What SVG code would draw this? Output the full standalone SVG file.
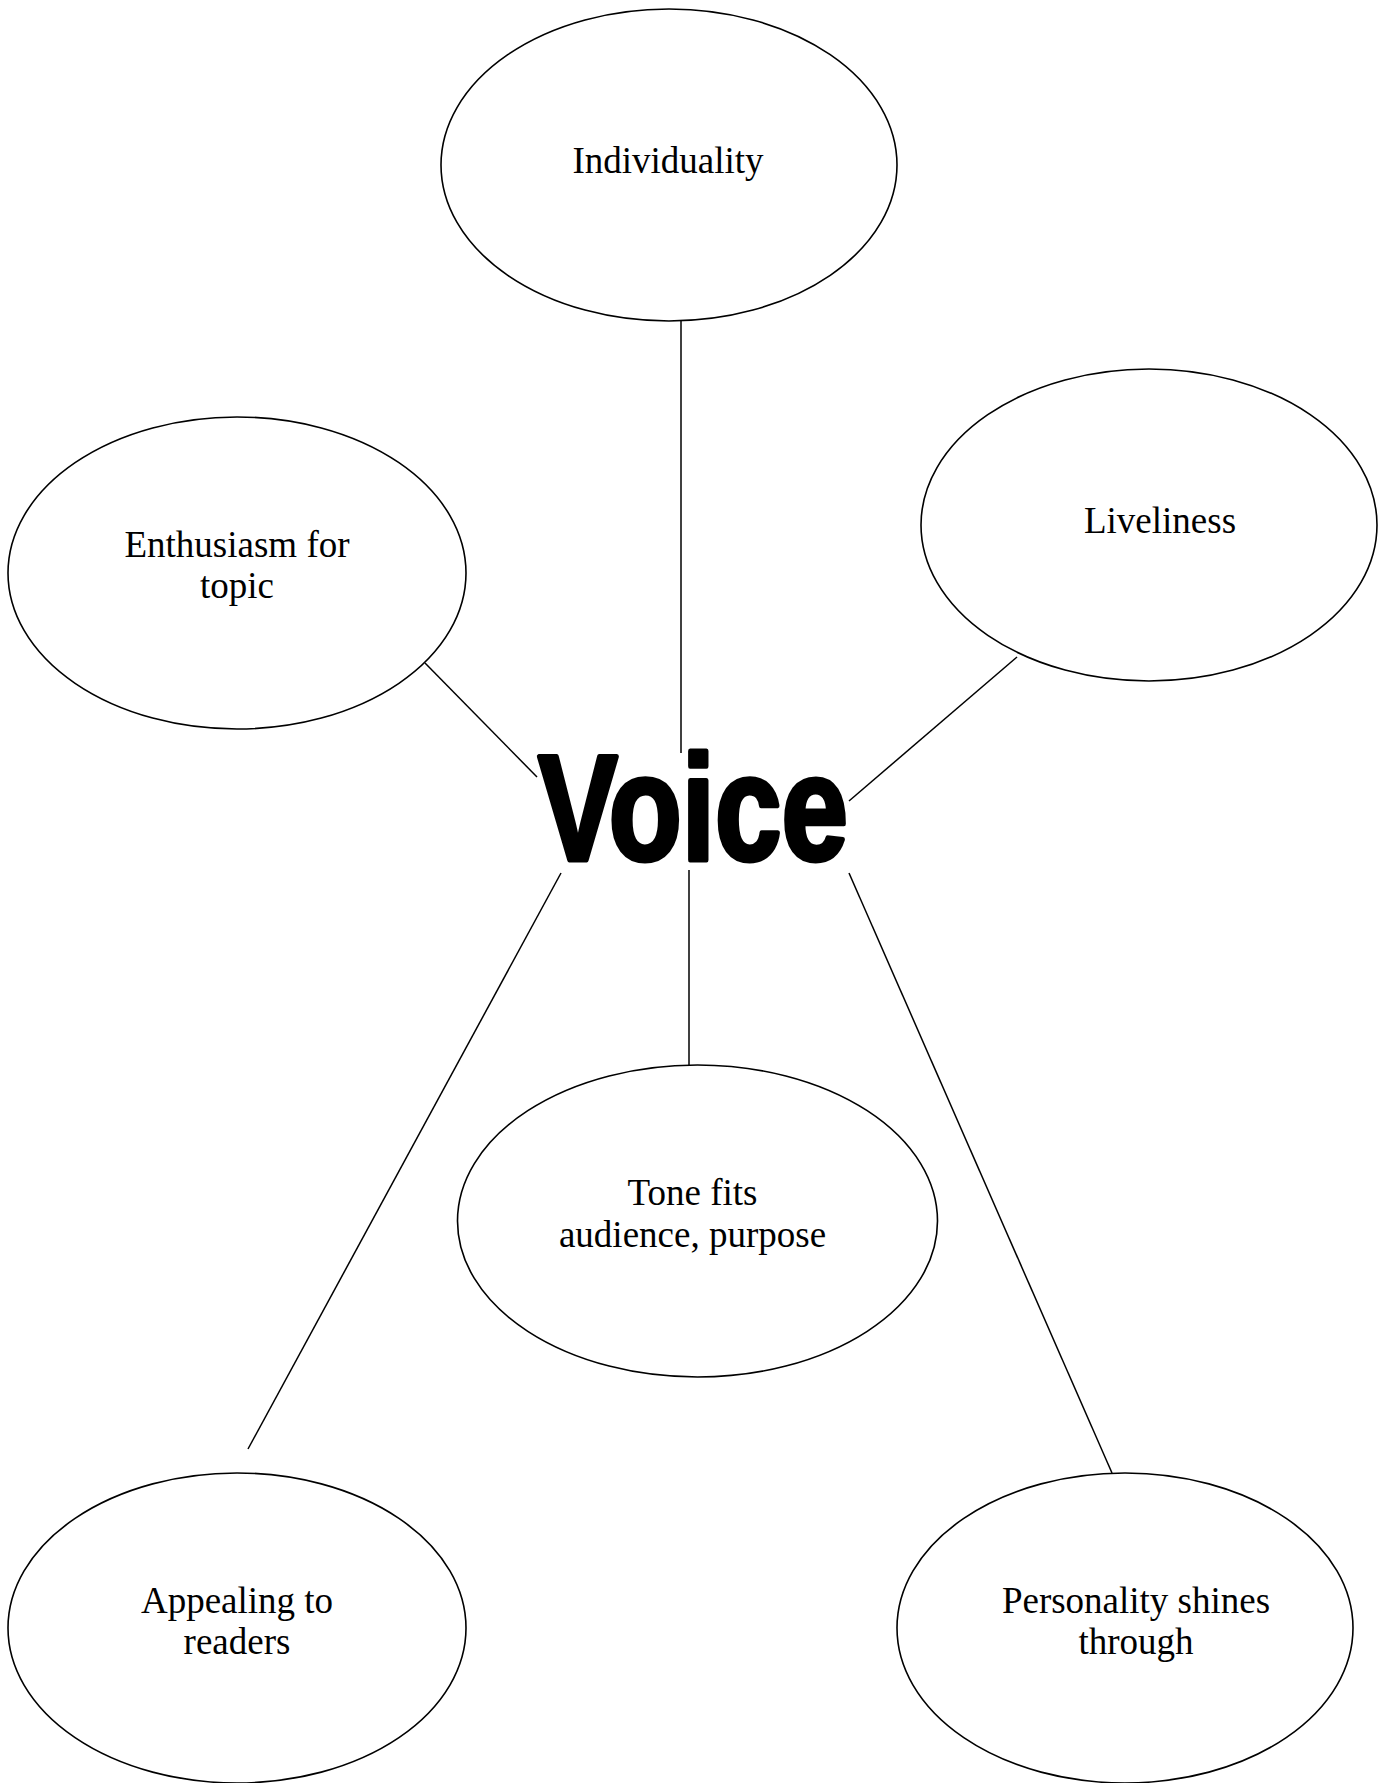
<svg xmlns="http://www.w3.org/2000/svg" width="1388" height="1783" viewBox="0 0 1388 1783">
<style>
.node ellipse{fill:#fff;stroke:#000;stroke-width:1.6}
.node text{font-family:"Liberation Serif","Times New Roman",serif;font-size:37px;fill:#000;text-anchor:middle}
#connectors line{stroke:#000;stroke-width:1.5}
.voice{font-family:"Liberation Sans",Arial,sans-serif;font-weight:bold;font-size:150px;fill:#000;stroke:#000;stroke-width:5;stroke-linejoin:round}
</style>
<rect width="1388" height="1783" fill="#fff"/>
<g id="connectors">
<line x1="681" y1="321" x2="681" y2="753"/>
<line x1="425" y1="663" x2="537" y2="777"/>
<line x1="1017" y1="657" x2="849" y2="801"/>
<line x1="561" y1="873" x2="248" y2="1449"/>
<line x1="689" y1="870" x2="689" y2="1065"/>
<line x1="849" y1="873" x2="1112" y2="1473"/>
</g>
<g id="individuality" class="node">
<ellipse cx="669" cy="165" rx="228" ry="156"/>
<text x="668" y="173">Individuality</text>
</g>
<g id="enthusiasm" class="node">
<ellipse cx="237" cy="573" rx="229" ry="156"/>
<text x="237" y="557">Enthusiasm for</text>
<text x="237" y="598">topic</text>
</g>
<g id="liveliness" class="node">
<ellipse cx="1149" cy="525" rx="228" ry="156"/>
<text x="1160" y="533">Liveliness</text>
</g>
<g id="voice">
<text class="voice" x="538" y="860" textLength="310" lengthAdjust="spacingAndGlyphs">Voice</text>
</g>
<g id="tone" class="node">
<ellipse cx="697.5" cy="1221" rx="240" ry="156"/>
<text x="692.5" y="1205">Tone fits</text>
<text x="692.5" y="1247">audience, purpose</text>
</g>
<g id="appealing" class="node">
<ellipse cx="237" cy="1628" rx="229" ry="155"/>
<text x="237" y="1613">Appealing to</text>
<text x="237" y="1654">readers</text>
</g>
<g id="personality" class="node">
<ellipse cx="1125" cy="1628" rx="228" ry="155"/>
<text x="1136" y="1613">Personality shines</text>
<text x="1136" y="1654">through</text>
</g>
</svg>
